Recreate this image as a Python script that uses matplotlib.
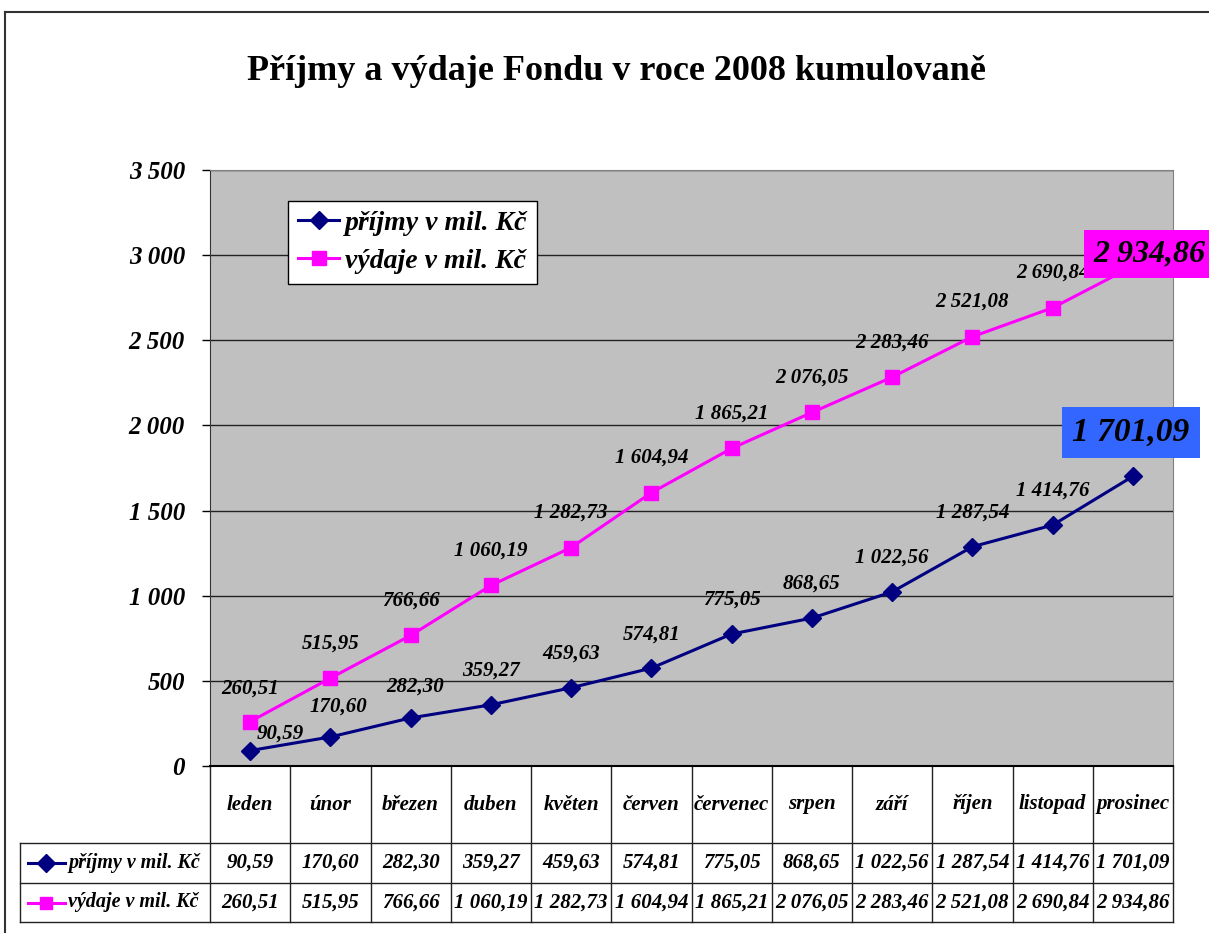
import matplotlib
matplotlib.use("Agg")
import matplotlib.pyplot as plt
from matplotlib.lines import Line2D
from matplotlib.transforms import blended_transform_factory

plt.rcParams['font.family'] = ['Liberation Serif', 'DejaVu Serif']

# Daten
mesice = ['leden', 'únor', 'březen', 'duben', 'květen', 'červen', 'červenec',
          'srpen', 'září', 'říjen', 'listopad', 'prosinec']
prijmy = [90.59, 170.60, 282.30, 359.27, 459.63, 574.81, 775.05, 868.65,
          1022.56, 1287.54, 1414.76, 1701.09]
vydaje = [260.51, 515.95, 766.66, 1060.19, 1282.73, 1604.94, 1865.21, 2076.05,
          2283.46, 2521.08, 2690.84, 2934.86]
nazev_prijmy = 'příjmy v mil. Kč'
nazev_vydaje = 'výdaje v mil. Kč'
y_ticks = [0, 500, 1000, 1500, 2000, 2500, 3000, 3500]

NAVY = '#000080'
MAGENTA = '#FF00FF'


def cz(v, dec=2):
    s = f"{v:,.{dec}f}"
    return s.replace(',', ' ').replace('.', ',')


W, H = 1209, 933
fig = plt.figure(figsize=(W / 100, H / 100), dpi=100)
fig.patch.set_facecolor('white')

# Rahmen um das Diagramm
fig.add_artist(Line2D([5 / W, 1], [1 - 12 / H, 1 - 12 / H], transform=fig.transFigure,
                      color='#333333', lw=1.5))
fig.add_artist(Line2D([5 / W, 5 / W], [0, 1 - 12 / H], transform=fig.transFigure,
                      color='#333333', lw=1.5))

fig.text(616 / W, 1 - 72 / H, 'Příjmy a výdaje Fondu v roce 2008 kumulovaně',
         ha='center', va='center', fontsize=26, fontweight='bold')

# Plotbereich
left, right, top, bottom = 210, 1173, 170, 766
ax = fig.add_axes([left / W, 1 - bottom / H, (right - left) / W, (bottom - top) / H])
ax.set_facecolor('#C0C0C0')
x = list(range(len(mesice)))

ax.plot(x, prijmy, color=NAVY, lw=2.2, marker='D', markersize=9.5,
        label=nazev_prijmy, zorder=3)
ax.plot(x, vydaje, color=MAGENTA, lw=2.2, marker='s', markersize=9.5,
        label=nazev_vydaje, zorder=3)

ax.set_xlim(-0.5, len(mesice) - 0.5)
ax.set_ylim(0, 3500)
ax.set_yticks(y_ticks)
ax.set_yticklabels([cz(v, 0) for v in y_ticks], fontsize=18,
                   fontweight='bold', fontstyle='italic')
ax.tick_params(axis='y', direction='out', length=6, width=1, pad=12)
ax.set_xticks([])
ax.yaxis.grid(True, color='#222222', lw=1)
ax.set_axisbelow(True)
for s in ['top', 'right']:
    ax.spines[s].set_color('#808080')
ax.spines['left'].set_color('#333333')
ax.spines['bottom'].set_color('black')
ax.spines['bottom'].set_linewidth(1.5)

# Datenbeschriftungen (Offsets in Pixel)
off_prijmy = [(30, 17), (8, 30), (4, 31)] + [(0, 34)] * 8
off_vydaje = [(0, 33)] + [(0, 35)] * 10
lab_kw = dict(textcoords='offset pixels', ha='center', va='center',
              fontsize=15, fontweight='bold', fontstyle='italic', zorder=4)
for i in range(len(mesice) - 1):
    ax.annotate(cz(prijmy[i]), (i, prijmy[i]), xytext=off_prijmy[i], **lab_kw)
    ax.annotate(cz(vydaje[i]), (i, vydaje[i]), xytext=off_vydaje[i], **lab_kw)

last = len(mesice) - 1
ax.annotate(cz(vydaje[last]), (last, vydaje[last]), xytext=(17, 12),
            textcoords='offset pixels', ha='center', va='center', fontsize=23,
            fontweight='bold', fontstyle='italic', annotation_clip=False, zorder=5,
            bbox=dict(boxstyle='square,pad=0.3', fc=MAGENTA, ec='none'))
ax.annotate(cz(prijmy[last]), (last, prijmy[last]), xytext=(-2, 44),
            textcoords='offset pixels', ha='center', va='center', fontsize=24,
            fontweight='bold', fontstyle='italic', annotation_clip=False, zorder=5,
            bbox=dict(boxstyle='square,pad=0.3', fc='#3366FF', ec='none'))

leg = ax.legend(loc='upper left', bbox_to_anchor=(78 / 963, 1 - 31 / 596),
                borderaxespad=0, fancybox=False, framealpha=1, edgecolor='black',
                handlelength=1.5, handletextpad=0.2, labelspacing=0.45,
                borderpad=0.35,
                prop=dict(family='Liberation Serif', size=20, weight='bold',
                          style='italic'))
leg.get_frame().set_linewidth(1)

# Datentabelle unter dem Diagramm
ph = bottom - top
pw = right - left
r1 = -(843 - bottom) / ph
r2 = -(883 - bottom) / ph
r3 = -(922 - bottom) / ph
tleft = (20 - left) / pw
bt = blended_transform_factory(ax.transData, ax.transAxes)
line_kw = dict(color='#222222', lw=1, clip_on=False)

for i in range(len(mesice) + 1):
    ax.plot([i - 0.5, i - 0.5], [0, r3], transform=bt, **line_kw)
for yy in [r1, r2, r3]:
    ax.plot([tleft, 1], [yy, yy], transform=ax.transAxes, **line_kw)
ax.plot([tleft, tleft], [r1, r3], transform=ax.transAxes, **line_kw)

cell_kw = dict(ha='center', va='center', fontsize=15, fontweight='bold',
               fontstyle='italic', transform=bt, clip_on=False)
for i, m in enumerate(mesice):
    ax.text(i, r1 / 2, m, **cell_kw)
    ax.text(i, (r1 + r2) / 2, cz(prijmy[i]), **cell_kw)
    ax.text(i, (r2 + r3) / 2, cz(vydaje[i]), **cell_kw)

# Legendenschluessel in der Tabelle
for yy, col, mk in [((r1 + r2) / 2, NAVY, 'D'), ((r2 + r3) / 2, MAGENTA, 's')]:
    ax.plot([(28 - left) / pw, (65 - left) / pw], [yy, yy], color=col, lw=2.2,
            transform=ax.transAxes, clip_on=False)
    ax.plot([(46 - left) / pw], [yy], color=col, marker=mk, markersize=9,
            transform=ax.transAxes, clip_on=False)
for yy, name in [((r1 + r2) / 2, nazev_prijmy), ((r2 + r3) / 2, nazev_vydaje)]:
    ax.text((68 - left) / pw, yy, name, ha='left', va='center', fontsize=14.5,
            fontweight='bold', fontstyle='italic', transform=ax.transAxes,
            clip_on=False)

fig.savefig('out.png', dpi=100)
